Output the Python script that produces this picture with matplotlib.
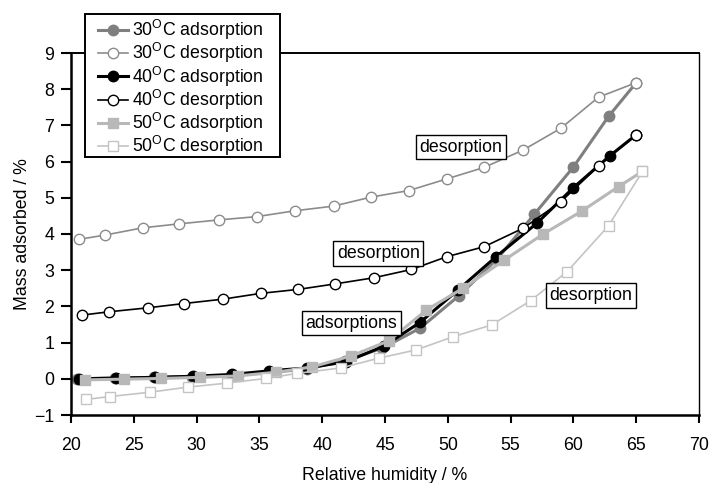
import matplotlib
matplotlib.use('Agg')
import matplotlib.pyplot as plt
from matplotlib.patches import Rectangle

# Data
ads30_x = [20.5, 23.5, 26.6, 29.6, 32.7, 35.7, 38.8, 41.8, 44.8, 47.8, 50.9, 53.9, 56.9, 60.0, 62.8, 65.0]
ads30_y = [0.0, 0.02, 0.04, 0.06, 0.10, 0.17, 0.27, 0.50, 0.85, 1.40, 2.30, 3.30, 4.55, 5.85, 7.25, 8.18]
des30_x = [65.0, 62.0, 59.0, 56.0, 52.9, 49.9, 46.9, 43.9, 40.9, 37.8, 34.8, 31.8, 28.6, 25.7, 22.7, 20.6]
des30_y = [8.18, 7.78, 6.92, 6.32, 5.84, 5.52, 5.20, 5.02, 4.77, 4.64, 4.48, 4.39, 4.28, 4.17, 3.97, 3.85]

ads40_x = [20.6, 23.6, 26.7, 29.7, 32.8, 35.8, 38.8, 41.9, 44.9, 47.8, 50.8, 53.8, 57.1, 60.0, 62.9, 65.0]
ads40_y = [0.0, 0.02, 0.04, 0.07, 0.12, 0.22, 0.30, 0.47, 0.90, 1.56, 2.45, 3.36, 4.30, 5.28, 6.16, 6.74]
des40_x = [65.0, 62.0, 59.0, 56.0, 52.9, 49.9, 47.1, 44.1, 41.0, 38.1, 35.1, 32.1, 29.0, 26.1, 23.0, 20.9]
des40_y = [6.74, 5.88, 4.89, 4.16, 3.65, 3.37, 3.02, 2.79, 2.62, 2.47, 2.36, 2.20, 2.08, 1.96, 1.85, 1.76]

ads50_x = [21.1, 24.2, 27.2, 30.3, 33.3, 36.3, 39.2, 42.3, 45.3, 48.3, 51.2, 54.5, 57.6, 60.7, 63.6, 65.5]
ads50_y = [-0.03, -0.01, 0.01, 0.04, 0.08, 0.18, 0.33, 0.63, 1.05, 1.90, 2.50, 3.28, 4.00, 4.64, 5.31, 5.73]
des50_x = [65.5, 62.8, 59.5, 56.6, 53.5, 50.4, 47.5, 44.5, 41.5, 38.0, 35.5, 32.4, 29.3, 26.3, 23.1, 21.2]
des50_y = [5.73, 4.23, 2.96, 2.16, 1.49, 1.16, 0.80, 0.57, 0.30, 0.15, 0.01, -0.12, -0.23, -0.37, -0.49, -0.57]

# Text boxes on the chart
box_texts = ['desorption', 'desorption', 'desorption', 'adsorptions']
box_x = [51.05, 44.47, 61.4, 42.33]
box_y = [6.40, 3.46, 2.30, 1.53]

plt.rcParams['font.family'] = ['Liberation Sans', 'DejaVu Sans']
plt.rcParams['font.size'] = 12.8

W, H = 711, 483
fig = plt.figure(figsize=(W / 100, H / 100), dpi=100)
ax = fig.add_axes([71 / W, 1 - 415 / H, 628 / W, 362 / H])

# Plot the six series (later ones on top, like the original)
ax.plot(ads30_x, ads30_y, color='#7f7f7f', lw=2.2, marker='o', ms=7.5,
        mfc='#7f7f7f', mec='#7f7f7f', label='30$^\\mathregular{O}$C adsorption')
ax.plot(des30_x, des30_y, color='#8c8c8c', lw=1.2, marker='o', ms=7.5,
        mfc='white', mec='#8c8c8c', mew=1.0, label='30$^\\mathregular{O}$C desorption')
ax.plot(ads40_x, ads40_y, color='black', lw=2.2, marker='o', ms=7.5,
        mfc='black', mec='black', label='40$^\\mathregular{O}$C adsorption')
ax.plot(des40_x, des40_y, color='black', lw=1.2, marker='o', ms=7.5,
        mfc='white', mec='black', mew=1.0, label='40$^\\mathregular{O}$C desorption')
ax.plot(ads50_x, ads50_y, color='#b8b8b8', lw=2.2, marker='s', ms=7.5,
        mfc='#b8b8b8', mec='#b8b8b8', label='50$^\\mathregular{O}$C adsorption')
ax.plot(des50_x, des50_y, color='#c4c4c4', lw=1.2, marker='s', ms=7.5,
        mfc='white', mec='#c4c4c4', mew=1.0, label='50$^\\mathregular{O}$C desorption')

# Boxed labels
for t, x, y in zip(box_texts, box_x, box_y):
    ax.text(x, y, t, ha='center', va='center', zorder=5,
            bbox=dict(boxstyle='square,pad=0.2', fc='white', ec='black', lw=1.0))

# Axes limits and ticks
ax.set_xlim(20, 70)
ax.set_ylim(-1, 9)
ax.set_xticks(range(20, 71, 5))
ax.set_yticks(range(-1, 10))
ax.tick_params(axis='x', direction='out', length=6, width=1.5, pad=10)
ax.tick_params(axis='y', direction='out', length=7, width=1.5, pad=5)
ax.spines['left'].set_linewidth(1.8)
ax.spines['bottom'].set_linewidth(1.8)
ax.spines['top'].set_linewidth(1.4)
ax.spines['right'].set_linewidth(1.0)

ax.set_xlabel('Relative humidity / %', labelpad=9)
ax.set_ylabel('Mass adsorbed / %', labelpad=2)

# Legend frame drawn as a figure patch so it sits over the top border
frame = Rectangle((85 / W, 1 - 157 / H), 195 / W, 143 / H, transform=fig.transFigure,
                  fc='white', ec='black', lw=1.4, zorder=5)
fig.add_artist(frame)

handles, labels = ax.get_legend_handles_labels()
leg = fig.legend(handles, labels, loc='upper left', bbox_to_anchor=(98 / W, 1 - 18 / H),
                 borderaxespad=0, frameon=False, handlelength=1.7, handletextpad=0.2,
                 labelspacing=-0.05, borderpad=0)
leg.set_zorder(6)

plt.savefig('out.png', dpi=100)
